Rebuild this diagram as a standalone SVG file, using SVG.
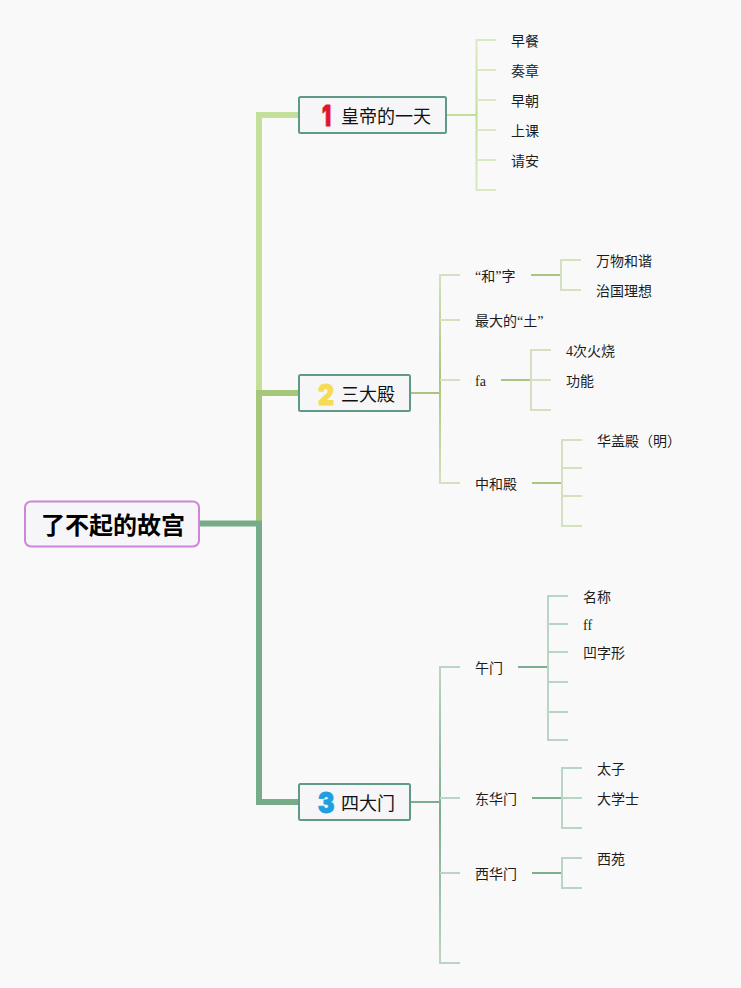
<svg xmlns="http://www.w3.org/2000/svg" width="741" height="988" viewBox="0 0 741 988">
<style>
text{fill:#1c1c1c}
.leaf{font:14px 'Liberation Serif','Noto Sans CJK SC',sans-serif}
.main{font:18px 'Noto Sans CJK SC',sans-serif;fill:#111}
.root{font:bold 24px 'Noto Sans CJK SC',sans-serif;fill:#000}
.num{font:900 25px Inter,'Liberation Sans',sans-serif;stroke-width:.8;stroke-linejoin:round}
.box{fill:#f6f6f8;stroke:#5f9a87;stroke-width:2}
.c{fill:none;stroke-linejoin:miter}
.t{stroke-width:6}
.a0{stroke:#c3dd9b;stroke-width:2}.a1{stroke:#dbe9c3;stroke-width:2}
.b0{stroke:#a9c57f;stroke-width:2}.b1{stroke:#d4e0bf;stroke-width:2}
.d0{stroke:#7dad8f;stroke-width:2}.d1{stroke:#bad5c5;stroke-width:2}
</style>
<defs>
<linearGradient id="vb" gradientUnits="userSpaceOnUse" x1="0" y1="275" x2="0" y2="483"><stop offset="0" stop-color="#d4e0bf"/><stop offset=".5" stop-color="#a9c57f"/><stop offset="1" stop-color="#d4e0bf"/></linearGradient>
<linearGradient id="vd" gradientUnits="userSpaceOnUse" x1="0" y1="667" x2="0" y2="963"><stop offset="0" stop-color="#bad5c5"/><stop offset=".5" stop-color="#7dad8f"/><stop offset="1" stop-color="#bad5c5"/></linearGradient>
<linearGradient id="va" gradientUnits="userSpaceOnUse" x1="0" y1="40" x2="0" y2="190"><stop offset="0" stop-color="#dbe9c3"/><stop offset=".5" stop-color="#c3dd9b"/><stop offset="1" stop-color="#dbe9c3"/></linearGradient>
</defs>
<rect width="741" height="988" fill="#f9f9fa"/>
<g id="connectors">
<path class="c t" stroke="#c3e09b" d="M299 115H259V393"/>
<path class="c t" stroke="#a6c67a" d="M299 393H259V523"/>
<path class="c t" stroke="#78ac88" d="M199 523.500H259V802H299"/>
<path class="c a0" d="M446 115H476"/>
<path class="c" stroke="url(#va)" stroke-width="2" d="M496 40H476.500V190H496"/>
<path class="c a1" d="M476.500 70H496M476.500 100H496M476.500 130H496M476.500 160H496"/>
<path class="c b0" d="M410 393H440M531 275H561M501 380H531M532 483H562"/>
<path class="c" stroke="url(#vb)" stroke-width="2" d="M460 275H440V483H460"/>
<path class="c b1" d="M440 320H460M440 380H460M581 260H561V290H581M551 350H531V410H551M531 380H551M582 440H562V526H582M562 468H582M562 496H582"/>
<path class="c d0" d="M410 802H440M518 667H548M532 798H562M532 873H562"/>
<path class="c" stroke="url(#vd)" stroke-width="2" d="M460 667H440V963H460"/>
<path class="c d1" d="M440 798H460M440 873H460M568 596H548V740H568M548 624H568M548 652H568M548 682H568M548 712H568M582 768H562V828H582M562 798H582M582 858H562V888H582"/>
</g>
<g id="root"><rect x="25" y="501.500" width="174" height="45" rx="6" fill="#f6f6f8" stroke="#d084dc" stroke-width="2"/><text class="root" x="41" y="534">了不起的故宫</text></g>
<g id="n1"><rect class="box" x="299" y="97" width="147" height="36" rx="1.500"/><text class="num" transform="translate(326.500 125.500) scale(.8 1.16)" text-anchor="middle" style="fill:#e0152f;stroke:#e0152f">1</text><text class="main" x="341" y="123">皇帝的一天</text></g>
<g id="n2"><rect class="box" x="299" y="375" width="111" height="36" rx="1.500"/><text class="num" transform="translate(326 404.500) scale(1 1.16)" text-anchor="middle" style="fill:#f6dc55;stroke:#f6dc55">2</text><text class="main" x="341" y="401">三大殿</text></g>
<g id="n3"><rect class="box" x="299" y="784" width="111" height="36" rx="1.500"/><text class="num" transform="translate(326 813) scale(1 1.16)" text-anchor="middle" style="fill:#1f9ee0;stroke:#1f9ee0">3</text><text class="main" x="341" y="810">四大门</text></g>
<g id="leaves" class="leaf">
<text x="511" y="46">早餐</text><text x="511" y="76">奏章</text><text x="511" y="106">早朝</text><text x="511" y="136">上课</text><text x="511" y="166">请安</text>
<text x="475" y="281">“和”字</text><text x="596" y="266">万物和谐</text><text x="596" y="296">治国理想</text>
<text x="475" y="326">最大的“土”</text>
<text x="475" y="386">fa</text><text x="566" y="356">4次火烧</text><text x="566" y="386">功能</text>
<text x="475" y="489">中和殿</text><text x="597" y="446">华盖殿（明）</text>
<text x="475" y="673">午门</text><text x="583" y="602">名称</text><text x="583" y="630">ff</text><text x="583" y="658">凹字形</text>
<text x="475" y="804">东华门</text><text x="597" y="774">太子</text><text x="597" y="804">大学士</text>
<text x="475" y="879">西华门</text><text x="597" y="864">西苑</text>
</g>
</svg>
